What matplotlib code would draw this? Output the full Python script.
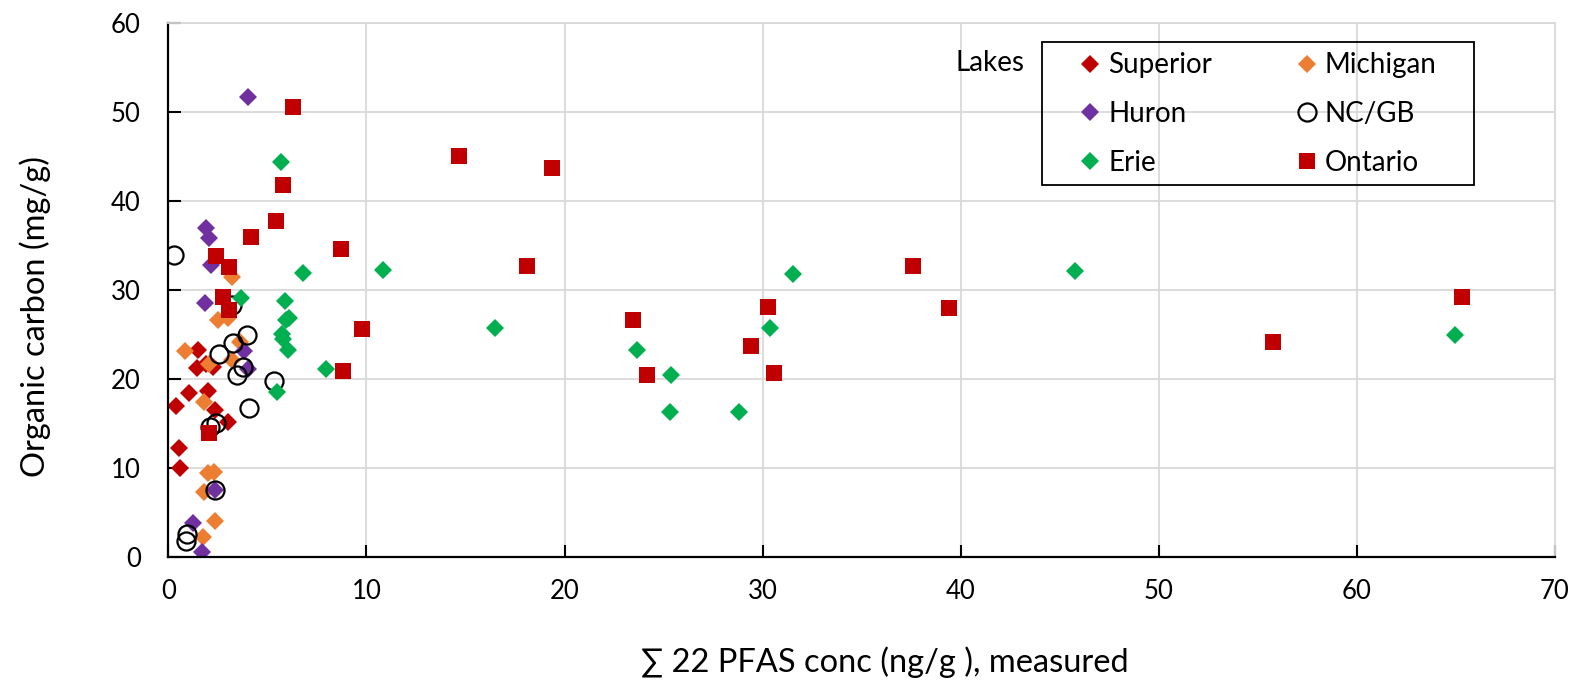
import numpy as np
import matplotlib
matplotlib.use("Agg")
import matplotlib.pyplot as plt
from matplotlib.patches import Rectangle

plt.rcParams['font.family'] = ['Lato', 'DejaVu Sans']

# %% Data (x: sum of 22 PFAS, ng/g; y: organic carbon, mg/g)
superior_x = [1.50, 1.42, 1.88, 2.26, 1.04, 2.01, 0.40, 2.37, 3.00, 0.53, 0.60]
superior_y = [23.3, 21.2, 21.7, 21.3, 18.4, 18.7, 17.0, 16.5, 15.2, 12.3, 10.0]

michigan_x = [0.83, 2.05, 3.19, 3.61, 1.81, 2.52, 3.02, 3.20, 2.00, 2.30, 1.81, 2.35, 1.76]
michigan_y = [23.1, 21.7, 22.1, 24.2, 17.4, 26.6, 26.8, 31.5, 9.4, 9.6, 7.3, 4.1, 2.3]

huron_x = [4.03, 1.92, 2.06, 2.13, 1.85, 3.83, 4.03, 2.35, 1.23, 1.71]
huron_y = [51.7, 37.0, 35.8, 32.8, 28.5, 23.1, 21.1, 7.5, 3.8, 0.6]

ncgb_x = [0.28, 3.98, 3.27, 2.54, 3.78, 3.44, 5.31, 4.07, 2.42, 2.08, 2.33, 0.93, 0.88, 3.20]
ncgb_y = [33.9, 25.0, 24.1, 22.8, 21.4, 20.4, 19.8, 16.7, 15.1, 14.6, 7.5, 2.6, 1.8, 28.3]

erie_x = [5.67, 6.78, 3.66, 5.88, 6.10, 5.93, 5.72, 5.80, 6.02, 7.95, 5.46,
          10.84, 16.5, 23.67, 25.40, 25.35, 28.79, 30.37, 31.55, 45.76, 64.95]
erie_y = [44.4, 31.9, 29.1, 28.8, 26.9, 26.6, 25.1, 24.5, 23.3, 21.1, 18.5,
          32.2, 25.7, 23.3, 20.5, 16.3, 16.3, 25.7, 31.8, 32.1, 24.9]

ontario_x = [6.27, 5.77, 5.43, 4.17, 8.72, 2.40, 3.07, 2.74, 3.07, 2.06, 8.80, 9.75,
             14.68, 19.37, 18.10, 23.47, 24.17, 29.44, 30.30, 30.60, 37.60, 39.40, 55.76, 65.30]
ontario_y = [50.6, 41.8, 37.8, 36.0, 34.6, 33.8, 32.6, 29.2, 27.8, 13.9, 20.9, 25.6,
             45.1, 43.7, 32.7, 26.6, 20.4, 23.7, 28.1, 20.7, 32.7, 28.0, 24.2, 29.2]

# %% Plot
fig = plt.figure(figsize=(15.76, 6.81), dpi=100)
ax = fig.add_axes([0.1069, 0.1821, 0.8795, 0.7841])

ax.plot(superior_x, superior_y, 'D', color='#C00000', ms=9, mew=0, label='Superior')
ax.plot(michigan_x, michigan_y, 'D', color='#ED7D31', ms=9, mew=0, label='Michigan')
ax.plot(huron_x, huron_y, 'D', color='#7030A0', ms=9, mew=0, label='Huron')
ax.plot(ncgb_x, ncgb_y, 'o', mfc='none', mec='black', ms=13, mew=1.6, label='NC/GB')
ax.plot(erie_x, erie_y, 'D', color='#00B050', ms=9, mew=0, label='Erie')
ax.plot(ontario_x, ontario_y, 's', color='#C00000', ms=12, mew=0, label='Ontario')

ax.set_xlim(0, 70)
ax.set_ylim(0, 60)
ax.set_xticks(np.arange(0, 71, 10))
ax.set_yticks(np.arange(0, 61, 10))
ax.grid(True, color='#D9D9D9', lw=1.3)
ax.set_axisbelow(True)
ax.tick_params(direction='in', length=9, width=1.5, labelsize=18.5)
ax.tick_params(axis='x', pad=16)
ax.tick_params(axis='y', pad=20)
for s in ['left', 'bottom']:
    ax.spines[s].set_linewidth(1.6)
for s in ['top', 'right']:
    ax.spines[s].set_color('#D9D9D9')
    ax.spines[s].set_linewidth(1.3)

ax.set_xlabel('∑ 22 PFAS conc (ng/g ), measured', fontsize=23.5, va='center')
ax.set_ylabel('Organic carbon (mg/g)', fontsize=23.5, va='center')
ax.xaxis.set_label_coords(0.517, -0.197)
ax.yaxis.set_label_coords(-0.096, 0.451)

# legend filled row-wise like the original, box drawn separately
h, l = ax.get_legend_handles_labels()
order = [0, 2, 4, 1, 3, 5]
ax.legend([h[i] for i in order], [l[i] for i in order], ncol=2,
          loc='upper left', bbox_to_anchor=(0.657, 0.945), fontsize=20,
          frameon=False, handlelength=0.8, handletextpad=0.25,
          labelspacing=0.82, borderpad=0, borderaxespad=0, columnspacing=3.0)
ax.add_patch(Rectangle((0.630, 0.697), 0.312, 0.268, transform=ax.transAxes,
                       fill=False, edgecolor='black', lw=1.3, zorder=5))
ax.text(0.593, 0.925, 'Lakes', transform=ax.transAxes, fontsize=20,
        ha='center', va='center')

fig.savefig('out.png', dpi=100)
